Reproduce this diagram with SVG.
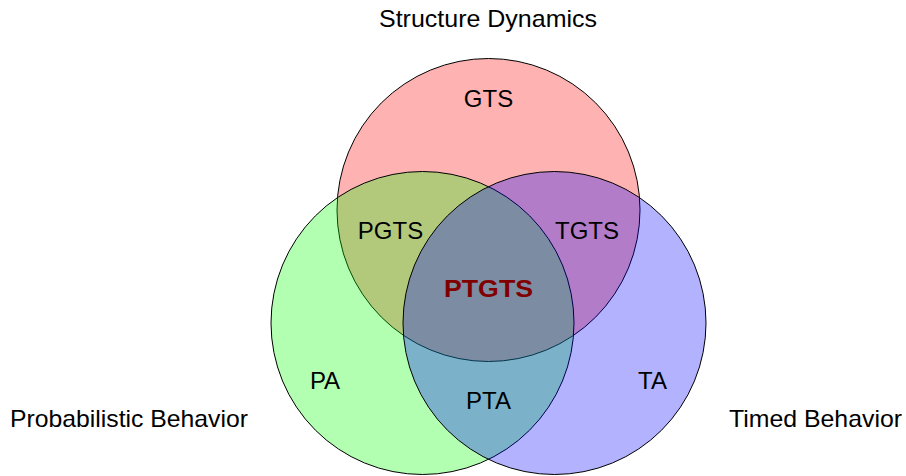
<svg xmlns="http://www.w3.org/2000/svg" width="906" height="476" viewBox="0 0 906 476">
<style>
.set{fill-opacity:0.3;stroke:#000;stroke-width:1}
text{font-family:"Liberation Sans",Arial,sans-serif;font-size:24px;fill:#000;text-anchor:middle}
.core{font-weight:bold;fill:#800000}
</style>
<rect width="906" height="476" fill="#fff"/>
<g id="sets">
<g id="structure"><circle class="set" cx="488.5" cy="210" r="151.5" fill="#ff0000"/></g>
<g id="probabilistic"><circle class="set" cx="422.5" cy="323" r="151.5" fill="#00ff00"/></g>
<g id="timed"><circle class="set" cx="554.5" cy="323" r="151.5" fill="#0000ff"/></g>
</g>
<g id="labels">
<g id="label-structure"><text x="488" y="27" textLength="218" lengthAdjust="spacingAndGlyphs">Structure Dynamics</text></g>
<g id="label-prob"><text x="129" y="427" textLength="238" lengthAdjust="spacingAndGlyphs">Probabilistic Behavior</text></g>
<g id="label-timed"><text x="815.5" y="427" textLength="173" lengthAdjust="spacingAndGlyphs">Timed Behavior</text></g>
<g id="gts"><text x="488.5" y="107">GTS</text></g>
<g id="pgts"><text x="390.5" y="239">PGTS</text></g>
<g id="tgts"><text x="587" y="239">TGTS</text></g>
<g id="ptgts"><text class="core" x="488.5" y="297" textLength="89" lengthAdjust="spacingAndGlyphs">PTGTS</text></g>
<g id="pa"><text x="325" y="389">PA</text></g>
<g id="ta"><text x="652.5" y="389">TA</text></g>
<g id="pta"><text x="488.5" y="409">PTA</text></g>
</g>
<g id="connectors"/>
</svg>
